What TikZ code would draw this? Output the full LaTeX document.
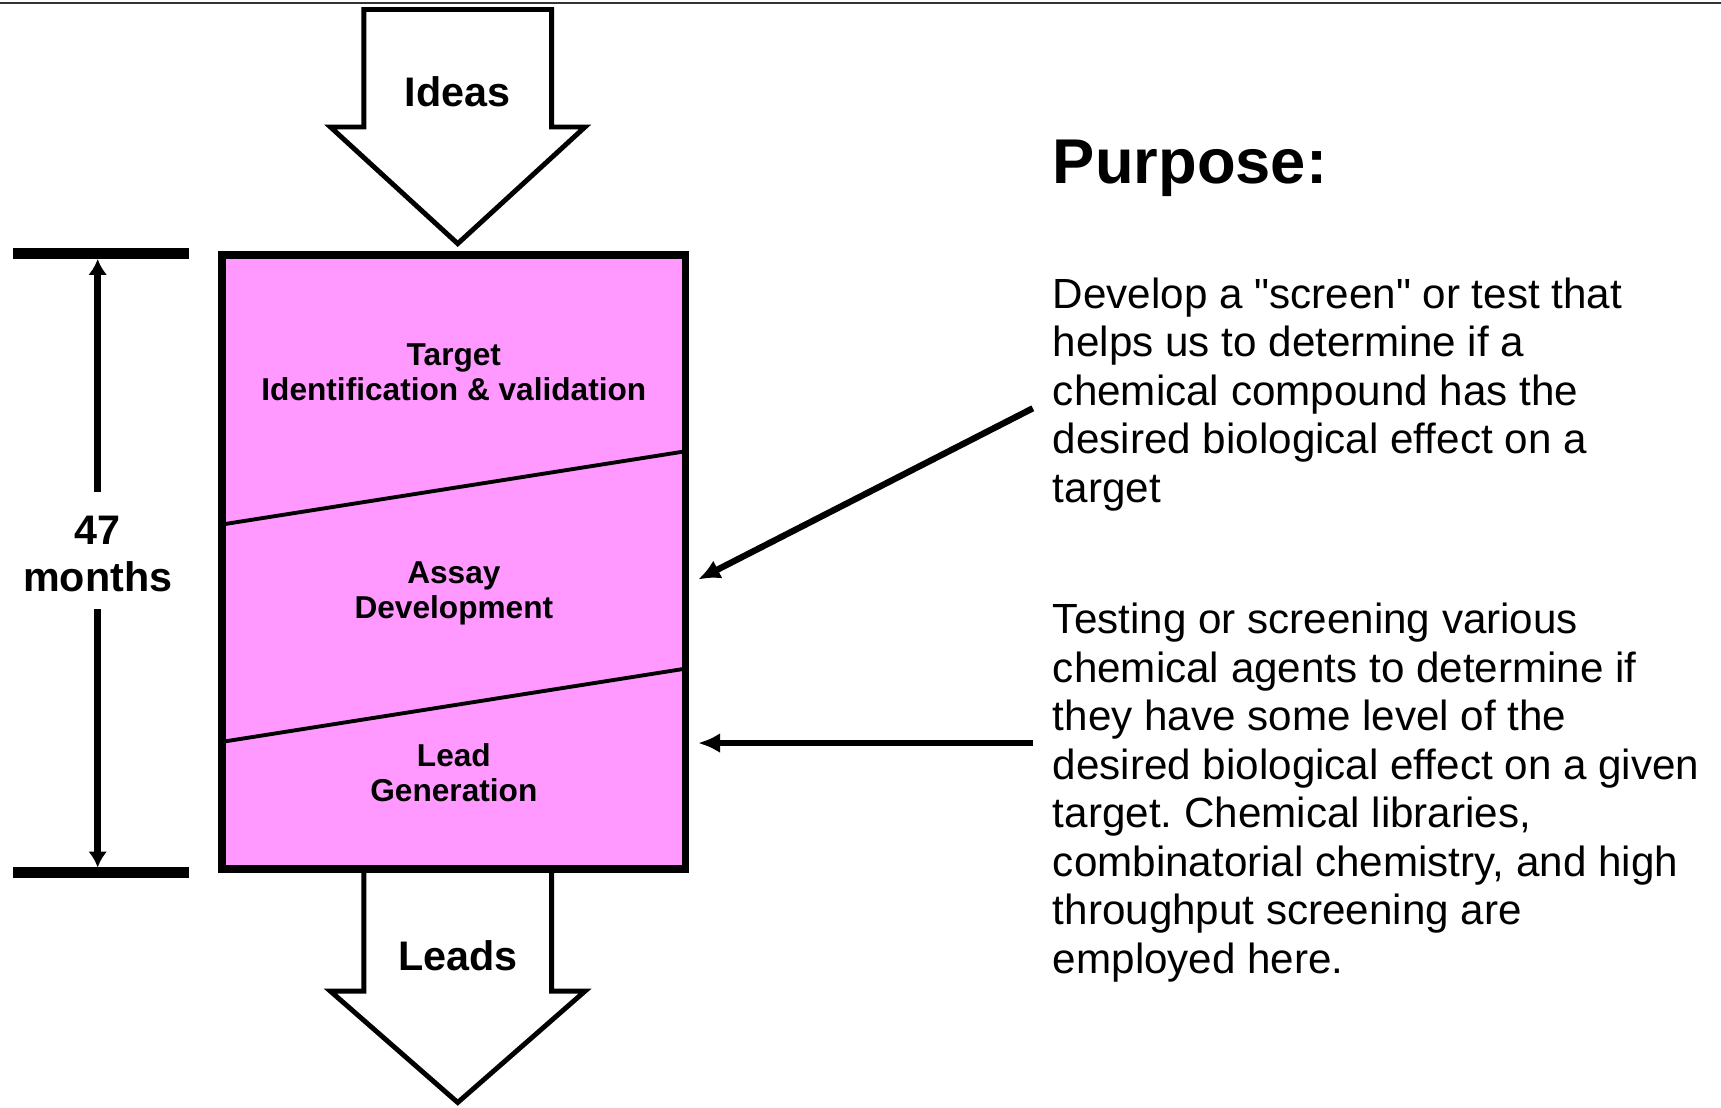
\documentclass[tikz,border=0pt]{standalone}
\usepackage{fontspec}
\setmainfont{Liberation Sans}[Ligatures=TeXOff]
\usepackage{tikz}
\usetikzlibrary{arrows.meta}
\frenchspacing
\definecolor{phasepink}{RGB}{255,153,255}
\tikzstyle{bigarrow}=[draw=black, line width=2.8pt, fill=white, line join=miter]
\tikzstyle{phasebox}=[draw=black, line width=4pt, fill=phasepink]
\tikzstyle{divider}=[draw=black, line width=2.2pt]
\tikzstyle{phase}=[align=center, inner sep=0pt, font=\fontsize{18}{19.9}\selectfont\bfseries]
\tikzstyle{flowtext}=[inner sep=0pt, font=\fontsize{23.5}{27}\selectfont\bfseries]
\tikzstyle{bodytext}=[align=left, anchor=north west, inner sep=0pt, font=\fontsize{24}{27.6}\selectfont]
\tikzstyle{pointer}=[draw=black, line width=3.6pt, -{Latex[length=4.4mm,width=4mm]}]
\tikzstyle{dimline}=[draw=black, line width=4pt, -{Latex[length=3.2mm,width=3.8mm]}]
\tikzstyle{dimbar}=[draw=black, line width=6pt]

\begin{document}
\begin{tikzpicture}
		   \useasboundingbox (0,0) rectangle (34.42,22.14);
		   \draw [line width=1.2pt, black!80] (0,22.08) -- (34.42,22.08);
		   \begin{scope}
			   % in and out arrows
			   \path [bigarrow] (7.277,21.95) -- (11.031,21.95) -- (11.031,19.60) -- (11.700,19.60)
				   -- (9.154,17.267) -- (6.608,19.60) -- (7.277,19.60) -- cycle;
			   \path [bigarrow] (7.277,4.76) -- (11.031,4.76) -- (11.031,2.317) -- (11.700,2.317)
				   -- (9.154,0.09) -- (6.608,2.317) -- (7.277,2.317) -- cycle;
			   \node (ideas) at (9.154, 20.30)[flowtext] {Ideas};
			   \node (leads) at (9.154, 3.02)[flowtext] {Leads};
		   \end{scope}
		   \begin{scope}
			   % phase box
			   \path [phasebox] (4.44,4.76) rectangle (13.716,17.04);
			   \path [divider] (4.44,11.650) -- (13.716,13.115);
			   \path [divider] (4.44,7.303) -- (13.716,8.768);
			   \node (target) at (9.077, 14.70)[phase] {Target\\Identification \& validation};
			   \node (assay) at (9.077, 10.28)[phase] {Assay\\Development};
			   \node (lead) at (9.077, 6.69)[phase] {Lead\\Generation};
		   \end{scope}
		   \begin{scope}
			   % duration
			   \path [dimbar] (0.263,17.069) -- (3.776,17.069);
			   \path [dimbar] (0.263,4.688) -- (3.776,4.688);
			   \node (dur) at (1.954, 11.06)[flowtext, align=center] {47\\months};
			   \coordinate (d0) at (1.954,12.306);
			   \coordinate (d1) at (1.954,16.96);
			   \coordinate (d2) at (1.954,9.957);
			   \coordinate (d3) at (1.954,4.79);
			   \draw [dimline] (d0) -- (d1);
			   \draw [dimline] (d2) -- (d3);
		   \end{scope}
		   \begin{scope}
			   % purpose text
			   \node (purpose) at (21.052, 18.47)[anchor=base west, inner sep=0pt, font=\fontsize{36}{40}\selectfont\bfseries] {Purpose:};
			   \node (assaytext) at (21.052, 16.59)[bodytext] {Develop a "screen" or test that\\helps us to determine if a\\chemical compound has the\\desired biological effect on a\\target};
			   \node (leadtext) at (21.052, 10.08)[bodytext] {Testing or screening various\\chemical agents to determine if\\they have some level of the\\desired biological effect on a given\\target. Chemical libraries,\\combinatorial chemistry, and high\\throughput screening are\\employed here.};
			   \coordinate (a0) at (20.656,13.974);
			   \coordinate (a1) at (13.962,10.549);
			   \coordinate (b0) at (20.656,7.279);
			   \coordinate (b1) at (13.962,7.279);
			   \draw [pointer] (a0) -- (a1);
			   \draw [pointer] (b0) -- (b1);
		   \end{scope}
	   \end{tikzpicture}
\end{document}
